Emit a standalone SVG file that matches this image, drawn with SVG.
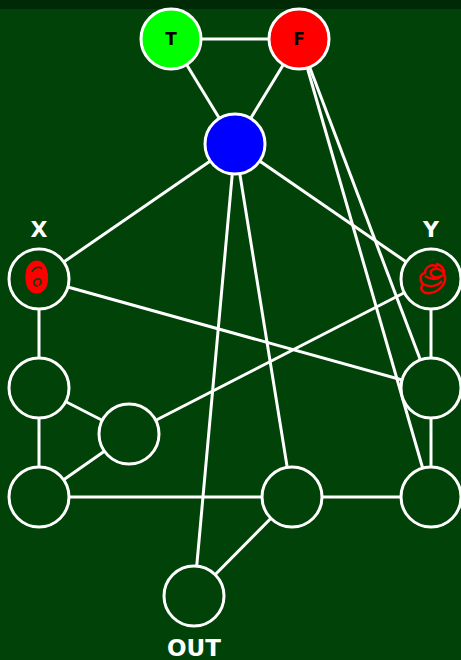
<svg xmlns="http://www.w3.org/2000/svg" width="461" height="660" viewBox="0 0 461 660">
<style>
.e{stroke:#fff;stroke-width:3;fill:none}
.n{stroke:#fff;stroke-width:3;fill:#004207}
.lbl{font-family:"DejaVu Sans",sans-serif;font-weight:bold;fill:#fff;text-anchor:middle}
.in{font-family:"DejaVu Sans",sans-serif;font-weight:bold;fill:#000;text-anchor:middle;font-size:17px}
</style>
<rect width="461" height="660" fill="#004207"/>
<rect width="461" height="9" fill="#002a06"/>
<g id="edges">
<line class="e" x1="171" y1="39" x2="299" y2="39"/>
<line class="e" x1="171" y1="39" x2="235" y2="144"/>
<line class="e" x1="299" y1="39" x2="235" y2="144"/>
<line class="e" x1="235" y1="144" x2="39" y2="279"/>
<line class="e" x1="235" y1="144" x2="431" y2="279"/>
<line class="e" x1="235" y1="144" x2="194" y2="596"/>
<line class="e" x1="235" y1="144" x2="292" y2="497"/>
<line class="e" x1="299" y1="39" x2="431" y2="388"/>
<line class="e" x1="299" y1="39" x2="431" y2="497"/>
<line class="e" x1="39" y1="279" x2="431" y2="388"/>
<line class="e" x1="431" y1="279" x2="129" y2="434"/>
<line class="e" x1="39" y1="279" x2="39" y2="388"/>
<line class="e" x1="39" y1="388" x2="129" y2="434"/>
<line class="e" x1="39" y1="388" x2="39" y2="497"/>
<line class="e" x1="129" y1="434" x2="39" y2="497"/>
<line class="e" x1="39" y1="497" x2="292" y2="497"/>
<line class="e" x1="292" y1="497" x2="431" y2="497"/>
<line class="e" x1="292" y1="497" x2="194" y2="596"/>
<line class="e" x1="431" y1="279" x2="431" y2="388"/>
<line class="e" x1="431" y1="388" x2="431" y2="497"/>
</g>
<g id="T"><circle cx="171" cy="39" r="30" stroke="#fff" stroke-width="3" fill="#00ff00"/><text class="in" x="171" y="45">T</text></g>
<g id="F"><circle cx="299" cy="39" r="30" stroke="#fff" stroke-width="3" fill="#ff0000"/><text class="in" x="299" y="45">F</text></g>
<g id="B"><circle cx="235" cy="144" r="30" stroke="#fff" stroke-width="3" fill="#0000ff"/></g>
<g id="X"><circle class="n" cx="39" cy="279" r="30"/><text class="lbl" x="39" y="237" font-size="22">X</text>
<path d="M37 261 C46 261 49 274 47 284 C45 292 38 295 32 292 C25 288 25 276 27 269 C29 263 33 261 37 261 Z" fill="#ff0000" stroke="#ff0000" stroke-width="1"/>
<path d="M32 272 C34 267 40 266 42 269" stroke="#004207" stroke-width="1.5" fill="none"/>
<path d="M38 286 C33 287 33 280 37 279 C41 278 43 283 39 285" stroke="#004207" stroke-width="1.5" fill="none"/>
</g>
<g id="Y"><circle class="n" cx="431" cy="279" r="30"/><text class="lbl" x="431" y="237" font-size="22">Y</text>
<path d="M437 267 C432 263 425 267 425 273 C419 274 420 281 423 284 C419 289 423 294 430 293 C439 292 446 284 445 277 C444 270 437 267 432 270 C428 274 434 280 441 276 M423 284 C430 288 438 286 442 281 M425 276 C431 280 437 280 443 275 M436 264 C442 265 445 270 444 274" stroke="#ff0000" stroke-width="2.5" fill="none"/>
</g>
<g id="L2"><circle class="n" cx="39" cy="388" r="30"/></g>
<g id="R2"><circle class="n" cx="431" cy="388" r="30"/></g>
<g id="M"><circle class="n" cx="129" cy="434" r="30"/></g>
<g id="L3"><circle class="n" cx="39" cy="497" r="30"/></g>
<g id="C3"><circle class="n" cx="292" cy="497" r="30"/></g>
<g id="R3"><circle class="n" cx="431" cy="497" r="30"/></g>
<g id="OUT"><circle class="n" cx="194" cy="596" r="30"/><text class="lbl" x="194" y="656" font-size="23">OUT</text></g>
</svg>
